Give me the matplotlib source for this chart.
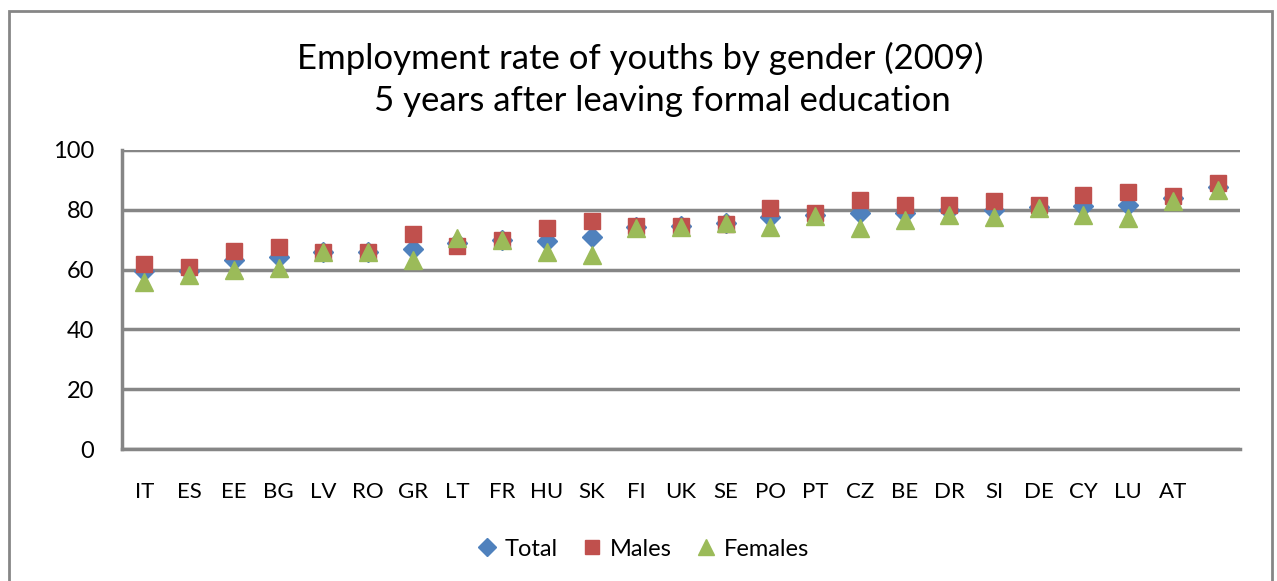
import matplotlib
matplotlib.use("Agg")
import matplotlib.pyplot as plt
from matplotlib.patches import Rectangle

countries = ["IT", "ES", "EE", "BG", "LV", "RO", "GR", "LT", "FR", "HU", "SK", "FI", "UK",
             "SE", "PO", "PT", "CZ", "BE", "DR", "SI", "DE", "CY", "LU", "AT", ""]
total = [59.5, 59.5, 63.2, 64.1, 65.8, 65.9, 66.9, 69.0, 69.8, 69.7, 70.9, 74.3, 74.5,
         75.5, 77.5, 78.4, 78.8, 79.0, 80.0, 80.0, 81.0, 81.3, 81.6, 83.8, 87.6]
males = [61.8, 60.8, 66.2, 67.7, 65.8, 66.0, 71.8, 68.0, 69.9, 73.8, 76.1, 74.6, 74.6,
         75.4, 80.5, 78.9, 83.3, 81.7, 81.6, 83.0, 81.7, 84.9, 86.0, 84.7, 88.9]
females = [55.9, 58.1, 59.9, 60.6, 65.8, 65.8, 63.1, 70.6, 69.8, 65.9, 65.0, 74.0, 74.4,
           75.7, 74.1, 77.9, 73.8, 76.5, 78.4, 77.5, 80.5, 78.2, 77.3, 83.0, 86.5]
yticks = [0, 20, 40, 60, 80, 100]

BLUE = "#4F81BD"
RED = "#C0504D"
GREEN = "#9BBB59"
GRID = "#868686"

plt.rcParams['font.family'] = ['Lato', 'DejaVu Sans']

fig = plt.figure(figsize=(12.77, 5.81), dpi=100)
W, H = 1277, 581
# outer border
fig.patches.append(Rectangle((9 / W, -0.1), (1272 - 9) / W, (581 - 11) / H + 0.1,
                             transform=fig.transFigure, fill=False,
                             edgecolor=GRID, linewidth=2, zorder=0))

ax = fig.add_axes([122 / W, 1 - 449 / H, (1240 - 122) / W, (449 - 150) / H])
x = list(range(len(countries)))
ax.plot(x, total, linestyle="none", marker="D", markersize=10.5, color=BLUE, label="Total", zorder=3)
ax.plot(x, males, linestyle="none", marker="s", markersize=12, color=RED, label="Males", zorder=4)
ax.plot(x, females, linestyle="none", marker="^", markersize=13, color=GREEN, label="Females", zorder=5)

ax.set_xlim(-0.5, len(countries) - 0.5)
ax.set_ylim(0, 100)
ax.set_yticks(yticks)
ax.set_yticklabels([str(v) for v in yticks], fontsize=17)
ax.set_xticks(x)
ax.set_xticklabels(countries, fontsize=16)
ax.tick_params(axis="both", length=0)
ax.tick_params(axis="x", pad=24)
ax.tick_params(axis="y", pad=20)
ax.grid(axis="y", color=GRID, linewidth=2.5)
ax.set_axisbelow(True)
for s in ["top", "right"]:
    ax.spines[s].set_visible(False)
for s in ["left", "bottom"]:
    ax.spines[s].set_color(GRID)
    ax.spines[s].set_linewidth(2.5)

fig.text(640 / W, 1 - 58 / H, "Employment rate of youths by gender (2009)",
         ha="center", va="center", fontsize=25)
fig.text(662 / W, 1 - 101 / H, "5 years after leaving formal education",
         ha="center", va="center", fontsize=25)

leg = fig.legend(loc="center", bbox_to_anchor=(643 / W, 1 - 549 / H), ncol=3, frameon=False,
                 fontsize=17, handlelength=0.9, handletextpad=0.3, columnspacing=1.0,
                 markerscale=0.85)

fig.savefig("out.png", dpi=100)
